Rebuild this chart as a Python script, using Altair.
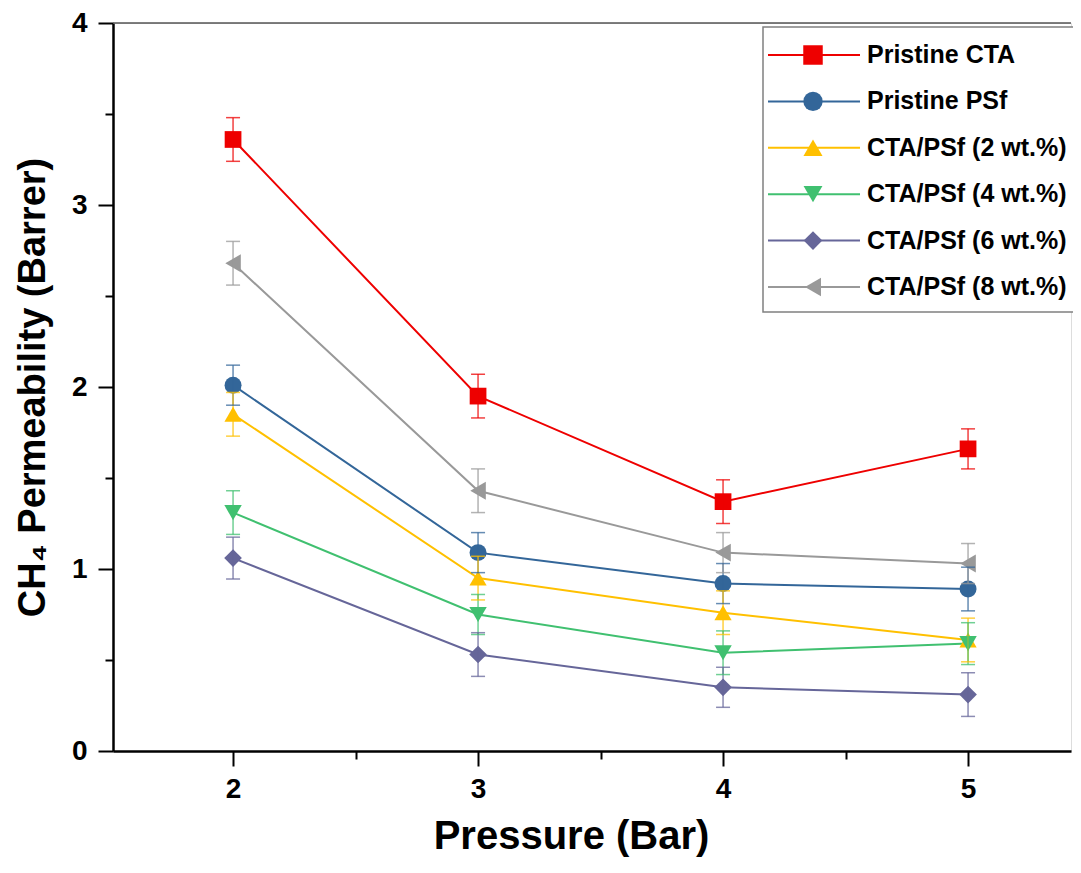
import altair as alt
import pandas as pd

pressure = [2, 3, 4, 5]
series_names = ["Pristine CTA", "Pristine PSf", "CTA/PSf (2 wt.%)",
                "CTA/PSf (4 wt.%)", "CTA/PSf (6 wt.%)", "CTA/PSf (8 wt.%)"]

pristine_cta = [3.36, 1.95, 1.37, 1.66]
pristine_psf = [2.01, 1.09, 0.92, 0.89]
cta_psf_2 = [1.85, 0.95, 0.76, 0.61]
cta_psf_4 = [1.31, 0.75, 0.54, 0.59]
cta_psf_6 = [1.06, 0.53, 0.35, 0.31]
cta_psf_8 = [2.68, 1.43, 1.09, 1.03]

err_cta = [0.12, 0.12, 0.12, 0.11]
err_psf = [0.11, 0.11, 0.11, 0.12]
err_2 = [0.12, 0.12, 0.12, 0.12]
err_4 = [0.12, 0.11, 0.12, 0.115]
err_6 = [0.115, 0.12, 0.11, 0.12]
err_8 = [0.12, 0.12, 0.11, 0.11]

colors = ["#ee0000", "#336699", "#ffc000", "#40c070", "#666699", "#999999"]
marker_shapes = ["square", "circle", "triangle-up", "triangle-down", "diamond", "triangle-left"]
marker_sizes = [280, 320, 480, 480, 540, 480]
legend_marker_sizes = [380, 340, 520, 520, 560, 520]

all_values = [pristine_cta, pristine_psf, cta_psf_2, cta_psf_4, cta_psf_6, cta_psf_8]
all_errs = [err_cta, err_psf, err_2, err_4, err_6, err_8]

rows = []
for name, vals, errs in zip(series_names, all_values, all_errs):
    for p, v, e in zip(pressure, vals, errs):
        rows.append({"series": name, "pressure": p, "value": v,
                     "lo": v - e, "hi": v + e})
df = pd.DataFrame(rows)
leg_df = pd.DataFrame({"series": series_names})

FONT = "Liberation Sans"
W, H = 958, 728

int_test = "datum.value % 1 === 0"
x_enc = alt.X("pressure:Q",
              scale=alt.Scale(domain=[1.51, 1.51 + W / 245.0], nice=False, zero=False),
              axis=alt.Axis(
                  title="Pressure (Bar)",
                  values=[2, 2.5, 3, 3.5, 4, 4.5, 5],
                  labelExpr=int_test + " ? format(datum.value, 'd') : ''",
                  tickSize={"condition": {"test": int_test, "value": 15}, "value": 8},
                  tickWidth=2, tickColor="black",
                  domainColor="black", domainWidth=2.5,
                  labelFont=FONT, labelFontSize=28, labelFontWeight="bold", labelColor="black",
                  labelPadding=9, labelFlush=False, labelOverlap=False,
                  titleFont=FONT, titleFontSize=40, titleFontWeight="bold", titleColor="black",
                  titlePadding=13, titleX=458, titleAlign="center", grid=False))

y_enc = alt.Y("value:Q",
              scale=alt.Scale(domain=[0, 4], nice=False, zero=True),
              axis=alt.Axis(
                  title="CH\u2084 Permeability (Barrer)",
                  values=[0, 0.5, 1, 1.5, 2, 2.5, 3, 3.5, 4],
                  labelExpr=int_test + " ? format(datum.value, 'd') : ''",
                  tickSize={"condition": {"test": int_test, "value": 15}, "value": 8},
                  tickWidth=2, tickColor="black",
                  domainColor="black", domainWidth=2.5,
                  labelFont=FONT, labelFontSize=28, labelFontWeight="bold", labelColor="black",
                  labelPadding=11, labelFlush=False, labelOverlap=False,
                  titleFont=FONT, titleFontSize=38, titleFontWeight="bold", titleColor="black",
                  titlePadding=19, grid=False))

color_scale = alt.Scale(domain=series_names, range=colors)
color_enc = alt.Color("series:N", scale=color_scale, legend=None)
shape_enc = alt.Shape("series:N", scale=alt.Scale(domain=series_names, range=marker_shapes), legend=None)

base = alt.Chart(df)

lines = base.mark_line(strokeWidth=2).encode(
    x=x_enc, y=y_enc, color=color_enc, detail="series:N")

points = base.mark_point(filled=True, opacity=1).encode(
    x=x_enc, y=y_enc, color=color_enc, shape=shape_enc,
    size=alt.Size("series:N", scale=alt.Scale(domain=series_names, range=marker_sizes), legend=None))

err_rules = base.mark_rule(strokeWidth=1.5, opacity=0.75).encode(
    x=x_enc, y=alt.Y("lo:Q"), y2="hi:Q", color=color_enc)
cap_lo = base.mark_tick(orient="horizontal", size=14, thickness=1.5, opacity=0.75).encode(
    x=x_enc, y=alt.Y("lo:Q"), color=color_enc)
cap_hi = base.mark_tick(orient="horizontal", size=14, thickness=1.5, opacity=0.75).encode(
    x=x_enc, y=alt.Y("hi:Q"), color=color_enc)

top_border = alt.Chart(pd.DataFrame({"a": [0]})).mark_rule(color="#555555", strokeWidth=1.5).encode(
    x=alt.value(0), x2=alt.value(W), y=alt.value(0))

main = alt.layer(lines, points, err_rules, cap_lo, cap_hi, top_border)

# legend drawn inside the plot
leg_y = alt.Y("series:N", scale=alt.Scale(type="point", domain=series_names, range=[32, 264], padding=0),
              axis=None)
leg_box = alt.Chart(pd.DataFrame({"a": [0]})).mark_rect(
    fill="white", stroke="#808080", strokeWidth=1.5).encode(
    x=alt.value(650), x2=alt.value(W + 20), y=alt.value(4), y2=alt.value(289))
leg_lines = alt.Chart(leg_df).mark_rule(strokeWidth=2).encode(
    x=alt.value(655), x2=alt.value(747), y=leg_y, color=color_enc)
leg_points = alt.Chart(leg_df).mark_point(filled=True, opacity=1).encode(
    x=alt.value(700), y=leg_y, color=color_enc, shape=shape_enc,
    size=alt.Size("series:N", scale=alt.Scale(domain=series_names, range=legend_marker_sizes), legend=None))
leg_text = alt.Chart(leg_df).mark_text(
    align="left", baseline="middle", font=FONT, fontSize=25, fontWeight="bold", color="black").encode(
    x=alt.value(754), y=leg_y, text="series:N")

legend = alt.layer(leg_box, leg_lines, leg_points, leg_text)

chart = alt.layer(main, legend).resolve_scale(
    y="independent", size="independent"
).properties(
    width=W, height=H,
    autosize=alt.AutoSizeParams(type="none"),
    padding={"left": 105, "top": 15, "right": 2, "bottom": 109}
).configure_view(stroke=None).configure(background="white")

chart.save("out.html", embed_options={"renderer": "svg", "actions": False})
